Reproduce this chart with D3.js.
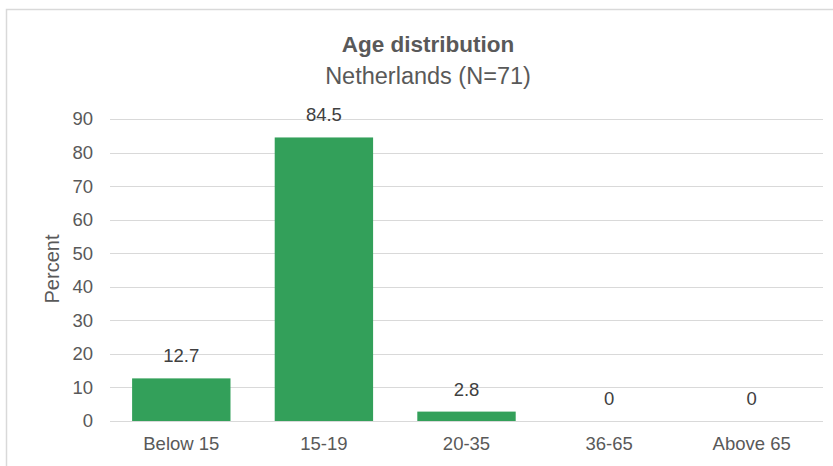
<!DOCTYPE html>
<html><head><meta charset="utf-8">
<script src="https://cdn.jsdelivr.net/npm/d3@7"></script>
<style>body{margin:0;background:#fff;} svg{display:block;}</style>
</head><body>
<script>
const categories = ["Below 15", "15-19", "20-35", "36-65", "Above 65"];
const values = [12.7, 84.5, 2.8, 0, 0];
const yTicks = [0, 10, 20, 30, 40, 50, 60, 70, 80, 90];
const title = "Age distribution";
const subtitle = "Netherlands (N=71)";
const yLabel = "Percent";

const W = 833, H = 466;
const font = "'Liberation Sans', Arial, sans-serif";
const textColor = "#595959";
const svg = d3.select("body").append("svg").attr("width", W).attr("height", H);

svg.append("rect").attr("x", 6.5).attr("y", 9.5).attr("width", 840).attr("height", 480)
  .attr("fill", "#fff").attr("stroke", "#d9d9d9").attr("stroke-width", 1.5);

const m = {left: 110, right: 823, top: 119, bottom: 421};
const x = d3.scaleBand().domain(categories).range([m.left, m.right]).paddingInner(0.31).paddingOuter(0.155);
const y = d3.scaleLinear().domain([0, 90]).range([m.bottom, m.top]);

const grid = svg.append("g");
grid.selectAll("line").data(yTicks).join("line")
  .attr("x1", m.left).attr("x2", m.right)
  .attr("y1", d => Math.round(y(d)) + 0.5).attr("y2", d => Math.round(y(d)) + 0.5)
  .attr("stroke", "#d9d9d9").attr("stroke-width", 1);

const yAxis = svg.append("g").attr("transform", `translate(${m.left},0)`)
  .call(d3.axisLeft(y).tickValues(yTicks).tickSize(0).tickPadding(17));
yAxis.select(".domain").remove();
yAxis.selectAll("text").attr("font-family", font).attr("font-size", 18.5).attr("fill", textColor);

const xAxis = svg.append("g").attr("transform", `translate(0,${m.bottom})`)
  .call(d3.axisBottom(x).tickSize(0).tickPadding(16));
xAxis.select(".domain").remove();
xAxis.selectAll("text").attr("font-family", font).attr("font-size", 18.5).attr("fill", textColor);

svg.append("g").selectAll("rect").data(values).join("rect")
  .attr("x", (d, i) => x(categories[i]))
  .attr("width", x.bandwidth())
  .attr("y", d => y(d))
  .attr("height", d => y(0) - y(d))
  .attr("fill", "#33a05a");

svg.append("g").selectAll("text").data(values).join("text")
  .attr("x", (d, i) => x(categories[i]) + x.bandwidth() / 2)
  .attr("y", d => y(d) - 16)
  .attr("text-anchor", "middle")
  .attr("font-family", font).attr("font-size", 18.5).attr("fill", "#404040")
  .text(d => d);

svg.append("text").attr("x", 428).attr("y", 52).attr("text-anchor", "middle")
  .attr("font-family", font).attr("font-size", 22.5).attr("font-weight", "bold").attr("fill", textColor)
  .text(title);
svg.append("text").attr("x", 428).attr("y", 84).attr("text-anchor", "middle")
  .attr("font-family", font).attr("font-size", 23.5).attr("fill", textColor)
  .text(subtitle);

svg.append("text").attr("transform", `translate(59,269) rotate(-90)`).attr("text-anchor", "middle")
  .attr("font-family", font).attr("font-size", 20).attr("fill", textColor)
  .text(yLabel);
</script>
</body></html>
